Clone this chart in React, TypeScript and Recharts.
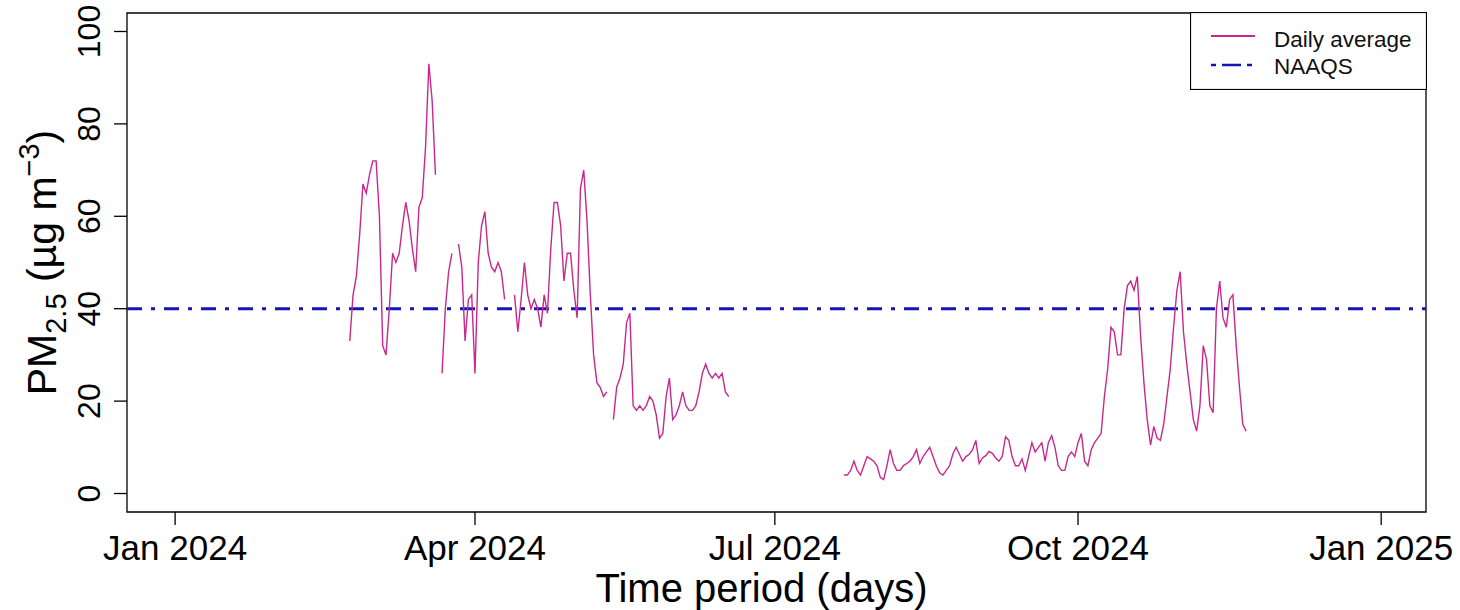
import React from "react";
import {
  Legend,
  Line,
  LineChart,
  ReferenceArea,
  ReferenceLine,
  XAxis,
  YAxis
} from "recharts";

// days counted from 2024-01-01 (day 0)
const springStart = 53; // 2024-02-23
const springPm: (number | null)[] = [
  33, 43, 47, 56, 67, 65, 69, 72, 72, 60, 32, 30, 40, 52, 50, 52, 58, 63, 59, 53,
  48, 62, 64, 75, 93, 85, 69, null, 26, 40, 48, 52, null, 54, 49, 33, 42, 43, 26, 50,
  58, 61, 52, 49, 48, 50, 48, 42, null, null, 43, 35, 42, 50, 43, 40, 42, 40, 36, 43,
  39, 53, 63, 63, 58, 46, 52, 52, 44, 38, 66, 70, 59, 43, 30, 24, 23, 21, 22, null,
  16, 23, 25, 28, 37, 39, 19, 18, 19, 18, 19, 21, 20, 17, 12, 13, 21, 25, 16, 17,
  19, 22, 19, 18, 18, 19, 22, 26, 28, 26, 25, 26, 25, 26, 22, 21
];

const autumnStart = 203; // 2024-07-22
const autumnPm: (number | null)[] = [
  4, 4, 5, 7, 5, 4, 6, 8, 7.5, 7, 6, 3.5, 3, 6, 9.5, 6.5, 5, 5, 6, 6.5,
  7, 8, 9.5, 6.5, 8, 9, 10, 8, 6, 4.5, 4, 5, 6, 8.5, 10, 8.5, 7, 8, 8.5, 9.5,
  11.5, 6.5, 7.7, 8.2, 9.1, 8.7, 7.7, 7, 8, 12.3, 11.5, 8, 6, 6, 7.5, 5, 8, 11, 9, 10,
  11, 7, 11, 12.5, 10, 6, 5, 5, 8, 9, 8, 11, 13, 7, 6, 9.5, 11, 12, 13, 21,
  27, 36, 35, 30, 30, 40, 45, 46, 44, 47, 34, 24, 16, 10.5, 14.5, 12, 11.5, 15, 21, 27,
  36, 44, 48, 35, 28, 22, 16, 13.5, 19, 32, 29, 19, 17.5, 40, 46, 38, 36, 42, 43, 32,
  23, 15, 13.5
];

const naaqs = 40;

const tickDates = ["2024-01-01", "2024-04-01", "2024-07-01", "2024-10-01", "2025-01-01"];
const tickLabels = ["Jan 2024", "Apr 2024", "Jul 2024", "Oct 2024", "Jan 2025"];
const yTicks = [0, 20, 40, 60, 80, 100];

const dayOf = (iso: string) =>
  Math.round((Date.parse(iso) - Date.parse("2024-01-01")) / 86400000);
const tickDays = tickDates.map(dayOf);

const rows: { day: number; pm: number | null }[] = [
  ...springPm.map((v, i) => ({ day: springStart + i, pm: v })),
  { day: springStart + springPm.length, pm: null },
  ...autumnPm.map((v, i) => ({ day: autumnStart + i, pm: v }))
];

// R-style 4% axis padding around xlim = 2024-01-01..2024-12-31, ylim = 0..100
const xMin = -14.6;
const xMax = 379.6;
const yMin = -4;
const yMax = 104;

const PINK = "#c8288c";
const BLUE = "#1414b4";
const DASH = "15 9 4 9";

function YTick({ x, y, payload }: any) {
  return (
    <text
      x={x}
      y={y}
      transform={`rotate(-90, ${x}, ${y})`}
      textAnchor="middle"
      fontSize={32}
      fill="#000"
    >
      {payload.value}
    </text>
  );
}

function YTitle({ viewBox }: any) {
  const cx = 56;
  const cy = viewBox.y + viewBox.height / 2;
  return (
    <text
      x={cx}
      y={cy}
      transform={`rotate(-90, ${cx}, ${cy})`}
      textAnchor="middle"
      fontSize={41}
      fill="#000"
    >
      <tspan>PM</tspan>
      <tspan fontSize={29} dy={10}>2.5</tspan>
      <tspan dy={-10}> (µg m</tspan>
      <tspan fontSize={29} dy={-17}>−3</tspan>
      <tspan dy={17}>)</tspan>
    </text>
  );
}

function XTitle({ viewBox }: any) {
  return (
    <text
      x={viewBox.x + viewBox.width / 2 - 15}
      y={viewBox.y + viewBox.height - 8}
      textAnchor="middle"
      fontSize={40}
      fill="#000"
    >
      Time period (days)
    </text>
  );
}

function LegendBox() {
  return (
    <svg width={237} height={78} style={{ display: "block" }}>
      <rect x={0.5} y={0.5} width={236} height={77} fill="#fff" stroke="#000" strokeWidth={1.2} />
      <line x1={21} x2={65} y1={24} y2={24} stroke={PINK} strokeWidth={2} />
      <line x1={21} x2={65} y1={53} y2={53} stroke={BLUE} strokeWidth={2.5} strokeDasharray="5 6 19 6" />
      <text x={84} y={35} fontSize={22.5} fill="#111">Daily average</text>
      <text x={84} y={62} fontSize={22.5} fill="#111">NAAQS</text>
    </svg>
  );
}

export default function App() {
  return (
    <div
      style={{
        position: "absolute",
        left: 0,
        top: 0,
        width: 1460,
        height: 610,
        background: "#fff",
        fontFamily: "'Liberation Sans', Arial, sans-serif"
      }}
    >
      <LineChart width={1460} height={610} data={rows} margin={{ top: 13, right: 34, bottom: 0, left: 0 }}>
        <XAxis
          dataKey="day"
          type="number"
          domain={[xMin, xMax]}
          allowDataOverflow
          ticks={tickDays}
          tickFormatter={(d: number) => tickLabels[tickDays.indexOf(d)]}
          interval={0}
          height={98}
          axisLine={false}
          tickSize={13}
          tickMargin={10}
          tickLine={{ stroke: "#000", strokeWidth: 1.3 }}
          tick={{ fontSize: 35, fill: "#000" }}
          label={(props: any) => <XTitle {...props} />}
        />
        <YAxis
          type="number"
          domain={[yMin, yMax]}
          allowDataOverflow
          ticks={yTicks}
          interval={0}
          width={127}
          axisLine={false}
          tickSize={13}
          tickMargin={14}
          tickLine={{ stroke: "#000", strokeWidth: 1.3 }}
          tick={<YTick />}
          label={(props: any) => <YTitle {...props} />}
        />
        <ReferenceLine y={naaqs} stroke={BLUE} strokeWidth={3} strokeDasharray={DASH} />
        <Line
          type="linear"
          dataKey="pm"
          stroke={PINK}
          strokeWidth={1.4}
          dot={false}
          connectNulls={false}
          isAnimationActive={false}
        />
        <ReferenceArea
          x1={xMin}
          x2={xMax}
          y1={yMin}
          y2={yMax}
          fill="none"
          stroke="#000"
          strokeWidth={1.3}
          ifOverflow="visible"
        />
        <Legend
          layout="vertical"
          verticalAlign="middle"
          align="center"
          content={() => <LegendBox />}
          wrapperStyle={{ left: 1190, top: 12, width: 237, height: 78 }}
        />
      </LineChart>
    </div>
  );
}
